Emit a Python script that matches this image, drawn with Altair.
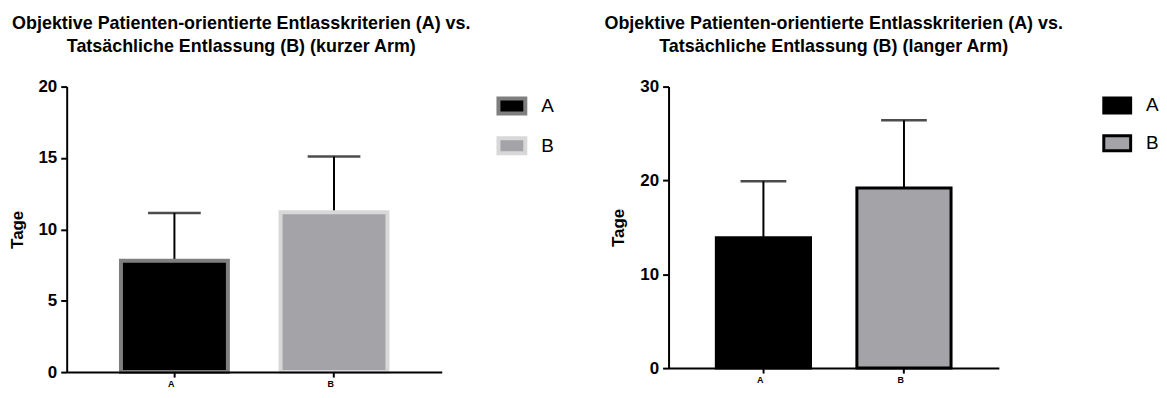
import altair as alt
import pandas as pd

categories = ["A", "B"]
short_mean = [7.8, 11.2]
short_sd = [3.35, 3.9]
long_mean = [13.9, 19.2]
long_sd = [6.0, 7.2]

title_left = ["Objektive Patienten-orientierte Entlasskriterien (A) vs.",
              "Tatsächliche Entlassung (B) (kurzer Arm)"]
title_right = ["Objektive Patienten-orientierte Entlasskriterien (A) vs.",
               "Tatsächliche Entlassung (B) (langer Arm)"]

FONT = "Liberation Sans"
SYM = "M-1,-0.56H1V0.56H-1Z"


def panel(means, sds, ymax, ystep, width, height, fills, strokes, bar_sw,
          cap, title, title_dx, legend_x, legend_y, row_pad):
    df = pd.DataFrame({"cat": categories, "mean": means,
                       "upper": [m + s for m, s in zip(means, sds)]})
    x = alt.X("cat:N", title=None,
              scale=alt.Scale(paddingInner=0.33, paddingOuter=0.34),
              axis=alt.Axis(labelAngle=0, labelFont=FONT, labelFontSize=9,
                            labelFontWeight="bold", labelColor="black",
                            labelPadding=6, domainColor="black", domainWidth=2,
                            tickColor="black", tickWidth=2, tickSize=5,
                            zindex=1))
    y = alt.Y("mean:Q", title="Tage",
              scale=alt.Scale(domain=[0, ymax], nice=False),
              axis=alt.Axis(values=list(range(0, ymax + 1, ystep)), grid=False,
                            labelFont=FONT, labelFontSize=17,
                            labelFontWeight="bold", labelColor="black",
                            labelPadding=4, titleFont=FONT, titleFontSize=17,
                            titleFontWeight="bold", titleColor="black",
                            titlePadding=12, domainColor="black", domainWidth=2,
                            tickColor="black", tickWidth=2, tickSize=6,
                            zindex=1))
    leg = alt.Legend(title=None, orient="none",
                     legendX=legend_x, legendY=legend_y,
                     symbolType=SYM, symbolSize=729,
                     symbolStrokeWidth=bar_sw,
                     labelFont=FONT, labelFontSize=19,
                     labelColor="black", labelOffset=14,
                     rowPadding=row_pad)
    bars = alt.Chart(df).mark_bar(strokeWidth=bar_sw).encode(
        x=x, y=y,
        fill=alt.Fill("cat:N", scale=alt.Scale(domain=categories, range=fills),
                      legend=leg),
        stroke=alt.Stroke("cat:N",
                          scale=alt.Scale(domain=categories, range=strokes),
                          legend=leg),
    )
    err = alt.Chart(df).mark_rule(color="black", strokeWidth=2).encode(
        x="cat:N", y="mean:Q", y2="upper:Q")
    caps = alt.Chart(df).mark_tick(color="black", thickness=2.5,
                                   size=cap, orient="horizontal").encode(
        x="cat:N", y="upper:Q")
    return alt.layer(err, caps, bars).properties(
        width=width, height=height,
        title=alt.TitleParams(text=title, font=FONT, fontSize=18,
                              fontWeight="bold", color="black",
                              anchor="middle", lineHeight=23, offset=22,
                              dx=title_dx))


left = panel(short_mean, short_sd, 20, 5, 377, 287,
             ["#000000", "#a4a3a8"], ["#7f7f7f", "#d8d8d8"], 4, 53,
             title_left, -13, 432, 4, 7)
right = panel(long_mean, long_sd, 30, 10, 332, 283,
              ["#000000", "#a4a3a8"], ["#000000", "#000000"], 3, 46,
              title_right, 0, 436, 4, 9)

chart = alt.hconcat(left, right, spacing=50).resolve_scale(
    fill="independent", stroke="independent").resolve_legend(
    fill="independent", stroke="independent").properties(
    padding={"left": 0, "top": 6, "right": 0, "bottom": 0}
).configure_view(stroke=None)
chart.save("out.html", embed_options={"renderer": "svg", "actions": False})
